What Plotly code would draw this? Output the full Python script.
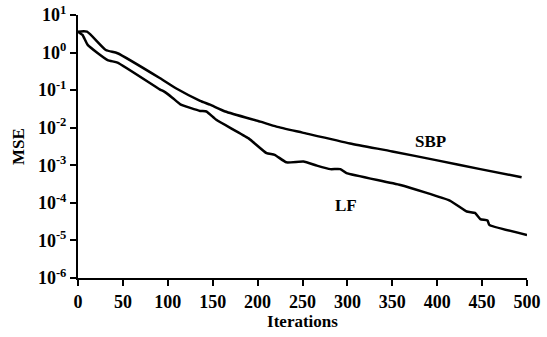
import plotly.graph_objects as go

# SBP series (iterations, MSE)
sbp_iter = [0, 10, 31, 44, 91, 109, 136, 147, 164, 203, 221, 250, 303, 350, 400, 448, 494]
sbp_mse = [3.6, 3.6, 1.17, 0.96, 0.21, 0.112, 0.052, 0.041, 0.027, 0.0145, 0.0107,
           0.0074, 0.0038, 0.00234, 0.00135, 0.00079, 0.00048]

# LF series (iterations, MSE)
lf_iter = [0, 5, 11, 33, 44, 91, 96, 105, 114, 136, 143, 154, 190, 210, 219, 232,
           251, 266, 281, 292, 299, 359, 414, 433, 442, 448, 456, 458, 500]
lf_mse = [3.6, 2.95, 1.58, 0.63, 0.54, 0.105, 0.091, 0.063, 0.042, 0.028, 0.027,
          0.0162, 0.0052, 0.0021, 0.0019, 0.0012, 0.00126, 0.00098, 0.00079,
          0.00079, 0.00062, 0.0003, 0.000115, 5.9e-5, 5.4e-5, 3.7e-5, 3.4e-5,
          2.6e-5, 1.4e-5]

x_ticks = [0, 50, 100, 150, 200, 250, 300, 350, 400, 450, 500]
y_tick_vals = [1e-6, 1e-5, 1e-4, 1e-3, 1e-2, 1e-1, 1, 10]
y_tick_text = ["10<sup>-6</sup>", "10<sup>-5</sup>", "10<sup>-4</sup>", "10<sup>-3</sup>",
               "10<sup>-2</sup>", "10<sup>-1</sup>", "10<sup>0</sup>", "10<sup>1</sup>"]

FONT = "Liberation Serif, Times New Roman, serif"

fig = go.Figure()
fig.add_trace(go.Scatter(x=sbp_iter, y=sbp_mse, mode="lines",
                         line=dict(color="black", width=2.5, shape="spline", smoothing=0.5),
                         showlegend=False))
fig.add_trace(go.Scatter(x=lf_iter, y=lf_mse, mode="lines",
                         line=dict(color="black", width=2.5, shape="spline", smoothing=0.4),
                         showlegend=False))

fig.add_annotation(x=392, y=-2.38, xref="x", yref="y", text="<b>SBP</b>",
                   showarrow=False, font=dict(family=FONT, size=17, color="black"))
fig.add_annotation(x=298, y=-4.08, xref="x", yref="y", text="<b>LF</b>",
                   showarrow=False, font=dict(family=FONT, size=17, color="black"))

fig.update_layout(
    width=547, height=337,
    margin=dict(l=78, r=20, t=15, b=59),
    paper_bgcolor="white", plot_bgcolor="white",
    font=dict(family=FONT, size=17, color="black"),
    xaxis=dict(range=[0, 500], tickvals=x_ticks, showline=True, linecolor="black",
               linewidth=2, ticks="outside", ticklen=6, tickwidth=2, tickcolor="black",
               showgrid=False, zeroline=False, automargin=False,
               ticklabeloverflow="allow",
               title=dict(text="<b>Iterations</b>", standoff=2,
                          font=dict(family=FONT, size=17)),
               tickfont=dict(family=FONT, size=18, weight="bold")),
    yaxis=dict(type="log", range=[-6, 1], tickvals=y_tick_vals, ticktext=y_tick_text,
               showline=True, linecolor="black", linewidth=2, ticks="outside",
               ticklen=6, tickwidth=2, tickcolor="black", showgrid=False, zeroline=False,
               automargin=False, ticklabeloverflow="allow",
               title=dict(text="<b>MSE</b>", standoff=9, font=dict(family=FONT, size=17)),
               tickfont=dict(family=FONT, size=18, weight="bold")),
)

# remove the browser's default 8px body margin so the figure fills the window exactly
fig.write_html("out.html", config={"displayModeBar": False},
               post_script="document.body.style.margin='0px';")
